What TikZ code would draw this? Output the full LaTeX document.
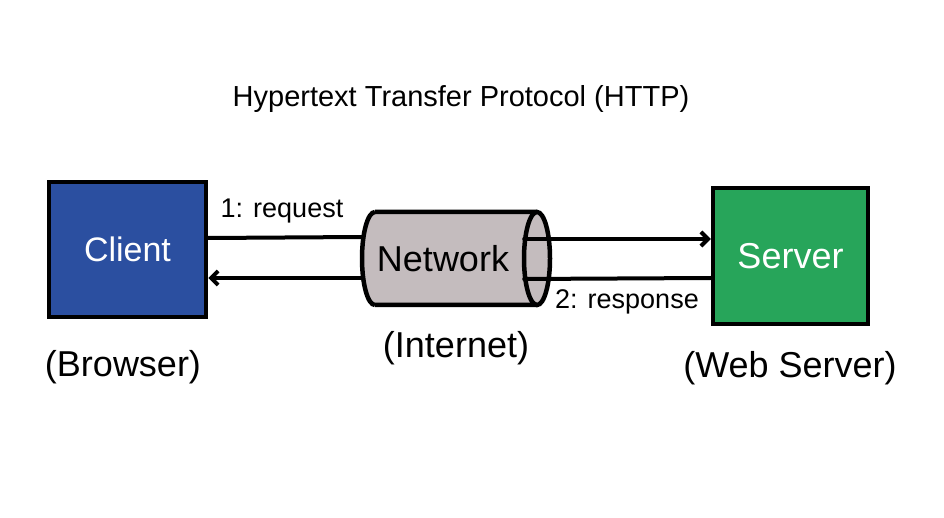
\documentclass[tikz,border=0pt]{standalone}
\usepackage{fontspec}
\setmainfont{Liberation Sans}
\usetikzlibrary{arrows.meta}
\definecolor{cblue}{RGB}{43,79,160}
\definecolor{cgreen}{RGB}{39,165,90}
\definecolor{cgrey}{RGB}{196,188,190}
\tikzset{
  box/.style={draw=black, line width=4.5pt, minimum width=#1, inner sep=0pt, text=white},
  conn/.style={line width=4pt, black, line cap=round},
  tip/.style={-{Straight Barb[length=7pt,width=14pt,line width=4pt]}},
  lbl/.style={font=\fontsize{36}{40}\selectfont, inner sep=0pt},
  elbl/.style={font=\fontsize{27}{30}\selectfont, inner sep=0pt}
}
\begin{document}
\begin{tikzpicture}[x=1pt,y=-1pt]
\useasboundingbox (0,0) rectangle (944,518);
\fill[white] (0,0) rectangle (944,518);
% title
\node[font=\fontsize{29}{32}\selectfont, inner sep=0pt] (title) at (461,99) {Hypertext Transfer Protocol (HTTP)};
% boxes
\node[box=157pt, minimum height=135pt, fill=cblue, font=\fontsize{34}{38}\selectfont] (client) at (127.5,249.5) {Client};
\node[box=155pt, minimum height=136pt, fill=cgreen, font=\fontsize{36}{40}\selectfont] (server) at (790.5,256) {Server};
% cylinder
\fill[cgrey] (375,212) -- (537,212) arc[start angle=-90,end angle=90,x radius=13,y radius=46.5] -- (375,305) arc[start angle=90,end angle=270,x radius=13,y radius=46.5] -- cycle;
\draw[line width=4.5pt] (375,212) -- (537,212) (375,305) -- (537,305)
  (375,305) arc[start angle=90,end angle=270,x radius=13,y radius=46.5];
\draw[line width=4.5pt] (537,258.5) ellipse[x radius=13, y radius=46.5];
\node[lbl, minimum width=162pt, minimum height=93pt] (net) at (443,258.5) {Network};
% connectors
\draw[conn] (client.east |- 0,238) -- (net.west |- 0,237);
\draw[conn, tip] (net.east |- 0,239) -- (server.west |- 0,239);
\draw[conn] (server.west |- 0,278) -- (net.east |- 0,279);
\draw[conn, tip] (net.west |- 0,278) -- (client.east |- 0,278);
% edge labels
\node[elbl] (req) at (282,211) {1: request};
\node[elbl] (resp) at (627,302) {2: response};
% captions
\node[lbl] (browser) at (123,367) {(Browser)};
\node[lbl] (internet) at (456,348) {(Internet)};
\node[lbl] (websrv) at (790,368) {(Web Server)};
\end{tikzpicture}
\end{document}
